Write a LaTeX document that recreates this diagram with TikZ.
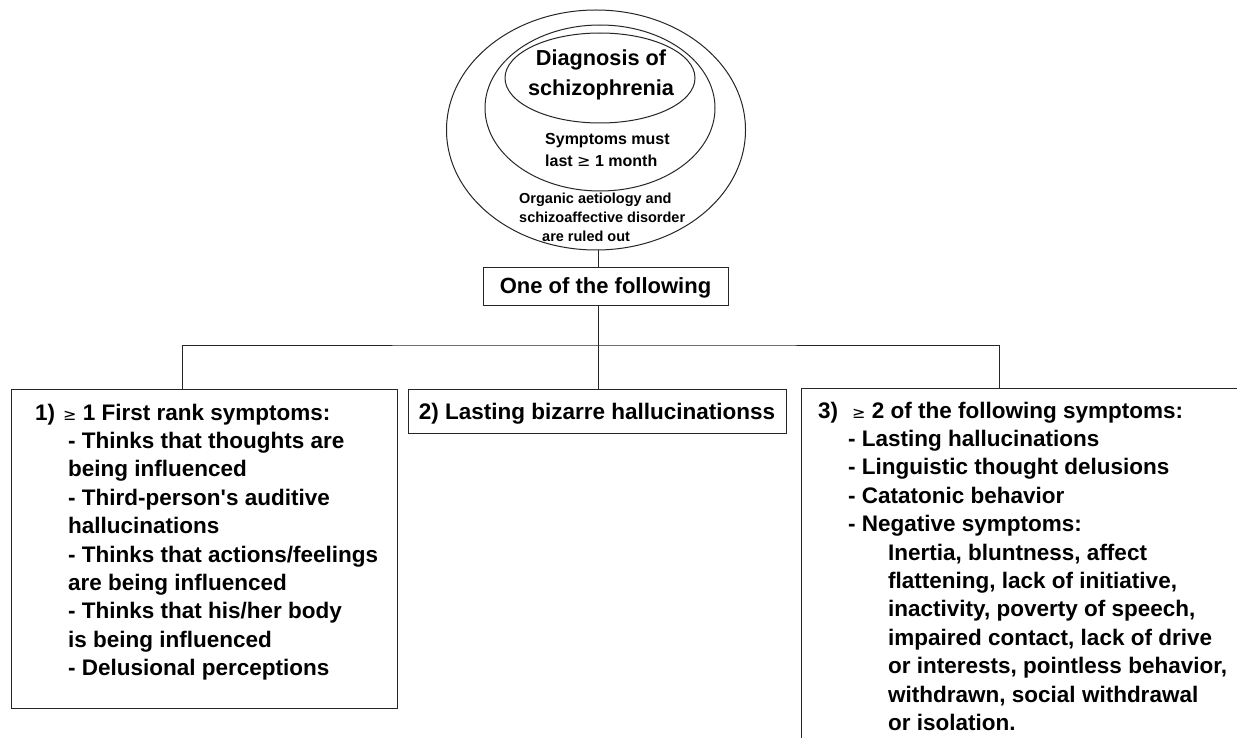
\documentclass[tikz,border=0pt]{standalone}
\usepackage{fontspec}
\setmainfont{Liberation Sans}
\newfontfamily\symf{DejaVu Sans}
\usetikzlibrary{shapes.geometric,calc}
\newcommand{\mygeq}{{\symf\mdseries\fontsize{16}{16}\selectfont ≥}}
\begin{document}
\begin{tikzpicture}[x=1pt,y=-1pt,
  ln/.style={draw=black!85,line width=1pt},
  oval/.style={ellipse,ln,inner sep=0pt},
  frame/.style={rectangle,ln,inner sep=0pt},
  big/.style={font=\bfseries\fontsize{22.5}{28.4}\selectfont,inner sep=0pt,align=left},
]
\useasboundingbox (0,0) rectangle (1237,738);
\clip (0,0) rectangle (1237,738);
\fill[white] (0,0) rectangle (1237,738);

% ellipses
\node[oval,minimum width=299,minimum height=240] (outer) at (596,130) {};
\node[oval,minimum width=230,minimum height=166] (middle) at (600,108) {};
\node[oval,minimum width=190,minimum height=90] (inner) at (600,78) {};

\node[inner sep=0pt,align=center,font=\bfseries\fontsize{21.7}{30}\selectfont] (diag) at (601,75) {Diagnosis of\\schizophrenia};
\node[inner sep=0pt,align=left,anchor=west,font=\bfseries\fontsize{16}{22}\selectfont] (month) at (545,150) {Symptoms must\\last \mygeq\ 1 month};
\node[inner sep=0pt,align=left,anchor=west,font=\bfseries\fontsize{14.5}{19}\selectfont] (organic) at (519,217) {Organic aetiology and\\schizoaffective disorder\\\hspace*{23pt}are ruled out};

% one of the following
\node[frame,minimum width=245,minimum height=38,text depth=0pt,font=\bfseries\fontsize{22}{26}\selectfont] (one) at (605.5,286) {One of the following};

% boxes
\node[frame,minimum width=386,minimum height=319] (box1) at (204,548.5) {};
\node[frame,minimum width=378,minimum height=44,text depth=0pt,font=\bfseries\fontsize{22.5}{26}\selectfont] (box2) at (597,411) {2) Lasting bizarre hallucinationss};
\node[frame,minimum width=452,minimum height=374] (box3) at (1027,575) {};

% connectors
\coordinate (j) at (598,345);
\coordinate (b1t) at (182,389);
\coordinate (b3t) at (999,388);
\draw[ln] (outer.south -| j) -- (one.north -| j);
\draw[ln] (one.south -| j) -- (j);
\draw[ln] (b1t) |- (j) -| (b3t);
\draw[ln] (j) -- (box2.north -| j);

% box 1 text (base = last line)
\node[big,anchor=base west] (n1) at (35,420) {1)};
\node[big,anchor=base west] (t1) at (63,675.6) {\mygeq\ 1 First rank symptoms:\\
\hspace*{5pt}- Thinks that thoughts are\\
\hspace*{5pt}being influenced\\
\hspace*{5pt}- Third-person\textquotesingle s auditive\\
\hspace*{5pt}hallucinations\\
\hspace*{5pt}- Thinks that actions/feelings\\
\hspace*{5pt}are being influenced\\
\hspace*{5pt}- Thinks that his/her body\\
\hspace*{5pt}is being influenced\\
\hspace*{5pt}- Delusional perceptions};

% box 3 text
\node[big,anchor=base west] (n3) at (818,418) {3)};
\node[big,anchor=base west] (t3) at (848,730.4) {\hspace*{4pt}\mygeq\ 2 of the following symptoms:\\
- Lasting hallucinations\\
- Linguistic thought delusions\\
- Catatonic behavior\\
- Negative symptoms:\\
\hspace*{40pt}Inertia, bluntness, affect\\
\hspace*{40pt}flattening, lack of initiative,\\
\hspace*{40pt}inactivity, poverty of speech,\\
\hspace*{40pt}impaired contact, lack of drive\\
\hspace*{40pt}or interests, pointless behavior,\\
\hspace*{40pt}withdrawn, social withdrawal\\
\hspace*{40pt}or isolation.};
\end{tikzpicture}
\end{document}
